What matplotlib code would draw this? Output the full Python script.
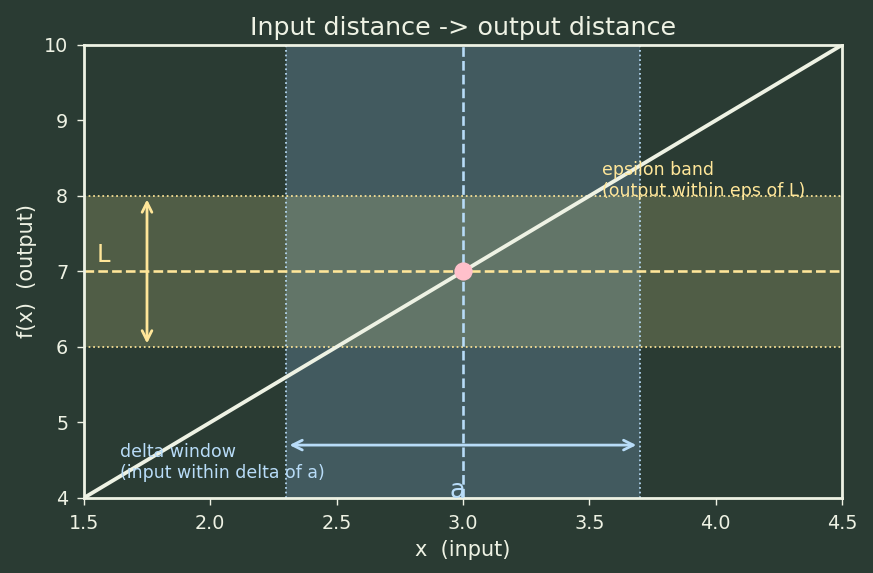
import matplotlib.pyplot as plt

# data
x_line = [1.5, 4.5]
y_line = [4.0, 10.0]
a = 3.0
L = 7.0
delta = 0.7
eps = 1.0

bg = '#2a3b33'
fg = '#eef2e4'
yellow = '#ffe699'
blue = '#b8dcf8'

fig, ax = plt.subplots(figsize=(873 / 125, 573 / 125), dpi=125)
fig.patch.set_facecolor(bg)
ax.set_facecolor(bg)

# bands
ax.axvspan(a - delta, a + delta, color='#7aa3c8', alpha=0.3, lw=0)
ax.axhspan(L - eps, L + eps, color='#d8d68a', alpha=0.22, lw=0)
for xv in (a - delta, a + delta):
    ax.axvline(xv, color=blue, ls=':', lw=1)
for yv in (L - eps, L + eps):
    ax.axhline(yv, color=yellow, ls=':', lw=1)

ax.axvline(a, color=blue, ls='--', lw=1.5)
ax.axhline(L, color=yellow, ls='--', lw=1.5)

# function
ax.plot(x_line, y_line, color=fg, lw=2.2)
ax.plot([a], [L], 'o', color='#ffc0cb', ms=9.5, zorder=5)

# arrows
ax.annotate('', xy=(1.75, L + eps), xytext=(1.75, L - eps),
            arrowprops=dict(arrowstyle='<->', color=yellow, lw=1.6, mutation_scale=14))
ax.annotate('', xy=(a + delta, 4.7), xytext=(a - delta, 4.7),
            arrowprops=dict(arrowstyle='<->', color=blue, lw=1.6, mutation_scale=14))

ax.text(1.55, 7.12, 'L', color=yellow, fontsize=14)
ax.text(2.98, 4.0, 'a', color=blue, fontsize=15, ha='center')
ax.text(3.55, 8.0, 'epsilon band\n(output within eps of L)', color=yellow, fontsize=10)
ax.text(1.645, 4.27, 'delta window\n(input within delta of a)', color=blue, fontsize=10)

ax.set_xlim(1.5, 4.5)
ax.set_ylim(4, 10)
ax.set_title('Input distance -> output distance', color=fg, fontsize=14.6)
ax.set_xlabel('x  (input)', color=fg, fontsize=12)
ax.set_ylabel('f(x)  (output)', color=fg, fontsize=12)
ax.tick_params(colors=fg, labelsize=11, length=4, pad=5)
for s in ax.spines.values():
    s.set_color(fg)
    s.set_linewidth(1.6)

plt.subplots_adjust(left=0.096, right=0.9645, top=0.9215, bottom=0.131)
plt.savefig('out.png', facecolor=bg)
